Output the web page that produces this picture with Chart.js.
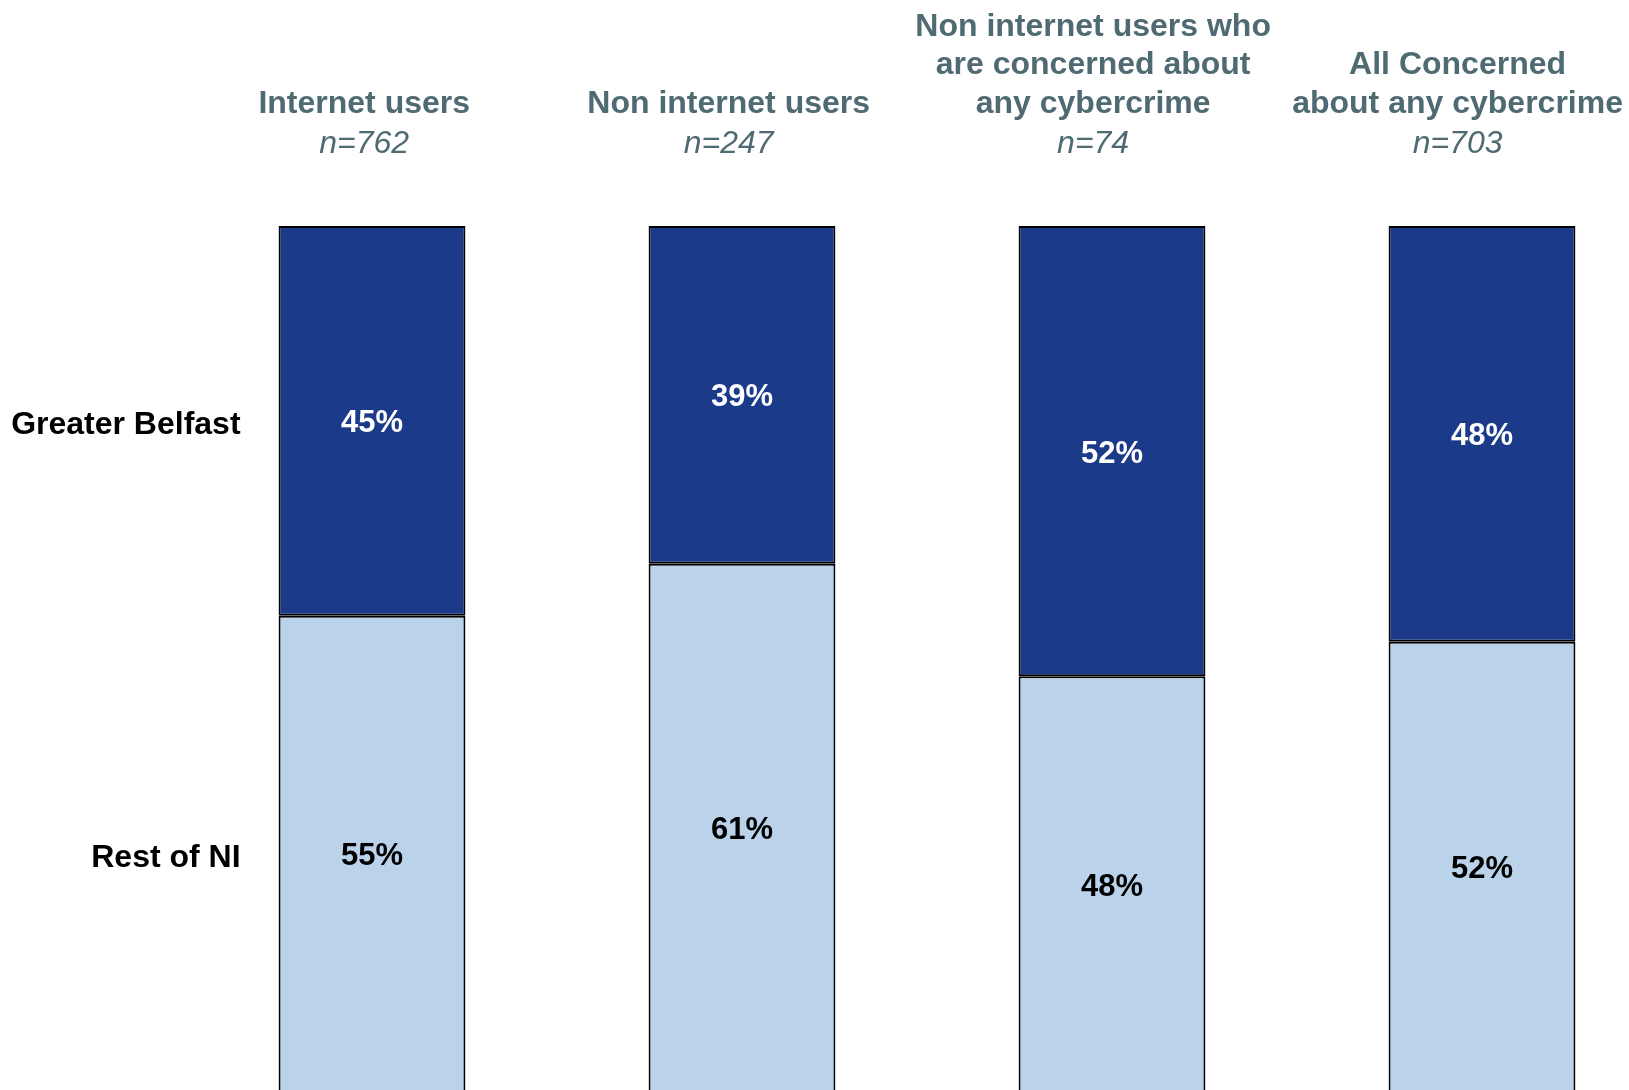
<!DOCTYPE html>
<html>
<head>
<meta charset="utf-8">
<script src="https://cdn.jsdelivr.net/npm/chart.js@4"></script>
<style>
  html, body { margin: 0; padding: 0; background: #fff; overflow: hidden; }
  canvas { display: block; }
</style>
</head>
<body>
<canvas id="chart1" width="1700" height="1100"></canvas>
<script>
// DATA
const groups = ["Internet users", "Non internet users", "Non internet users who are concerned", "All Concerned"];
const groupTitles = [
  ["Internet users"],
  ["Non internet users"],
  ["Non internet users who", "are concerned about", "any cybercrime"],
  ["All Concerned", "about any cybercrime"]
];
const sampleSizes = ["n=762", "n=247", "n=74", "n=703"];
const greaterBelfast = [45, 39, 52, 48];
const restOfNI = [55, 61, 48, 52];

const darkBlue = "#1b3a8a";
const lightBlue = "#bad3ea";
const titleColor = "#4f6a72";
const fontFamily = "'Liberation Sans', Arial, sans-serif";

// column titles above each bar, with the sample size in italics underneath
const titlePlugin = {
  id: "columnTitles",
  afterDraw(chart) {
    const ctx = chart.ctx;
    const left = chart.chartArea.left;
    const meta = chart.getDatasetMeta(0);
    ctx.save();
    ctx.fillStyle = titleColor;
    ctx.textAlign = "center";
    ctx.textBaseline = "middle";
    meta.data.forEach((bar, i) => {
      const x = left + (bar.x - left) * 0.985 - 5;
      const lines = groupTitles[i];
      ctx.font = "bold 32px " + fontFamily;
      lines.forEach((line, j) => {
        ctx.fillText(line, x, 104 - (lines.length - 1 - j) * 38.5);
      });
      ctx.font = "italic 32px " + fontFamily;
      ctx.fillText(sampleSizes[i], x, 144);
    });
    ctx.restore();
  }
};

// percentage inside each segment, plus the row names left of the first bar
const labelPlugin = {
  id: "segmentLabels",
  afterDatasetsDraw(chart) {
    const ctx = chart.ctx;
    ctx.save();
    ctx.textBaseline = "middle";
    chart.data.datasets.forEach((ds, d) => {
      const meta = chart.getDatasetMeta(d);
      meta.data.forEach((bar, i) => {
        const cy = (bar.y + bar.base) / 2 + 3;
        ctx.font = "bold 31px " + fontFamily;
        ctx.textAlign = "center";
        ctx.fillStyle = ds.labelColor;
        ctx.fillText(ds.data[i] + "%", bar.x, cy);
        if (i === 0) {
          ctx.font = "bold 32px " + fontFamily;
          ctx.textAlign = "right";
          ctx.fillStyle = "#000";
          ctx.fillText(ds.label, bar.x - bar.width / 2 - 38, cy + 1);
        }
      });
    });
    ctx.restore();
  }
};

new Chart(document.getElementById("chart1"), {
  type: "bar",
  data: {
    labels: groups,
    datasets: [
      {
        label: "Rest of NI",
        data: restOfNI,
        backgroundColor: lightBlue,
        labelColor: "#000",
        borderColor: "#000",
        borderWidth: 2,
        borderSkipped: false
      },
      {
        label: "Greater Belfast",
        data: greaterBelfast,
        backgroundColor: darkBlue,
        labelColor: "#fff",
        borderColor: "#000",
        borderWidth: 2,
        borderSkipped: false
      }
    ]
  },
  options: {
    responsive: false,
    animation: false,
    layout: { padding: { left: 187, right: 33, top: 226, bottom: 8 } },
    datasets: { bar: { barPercentage: 1, categoryPercentage: 0.505 } },
    scales: {
      x: { stacked: true, display: false },
      y: { stacked: true, display: false, min: 0, max: 100 }
    },
    plugins: {
      legend: { display: false },
      tooltip: { enabled: false }
    }
  },
  plugins: [titlePlugin, labelPlugin]
});
</script>
</body>
</html>
